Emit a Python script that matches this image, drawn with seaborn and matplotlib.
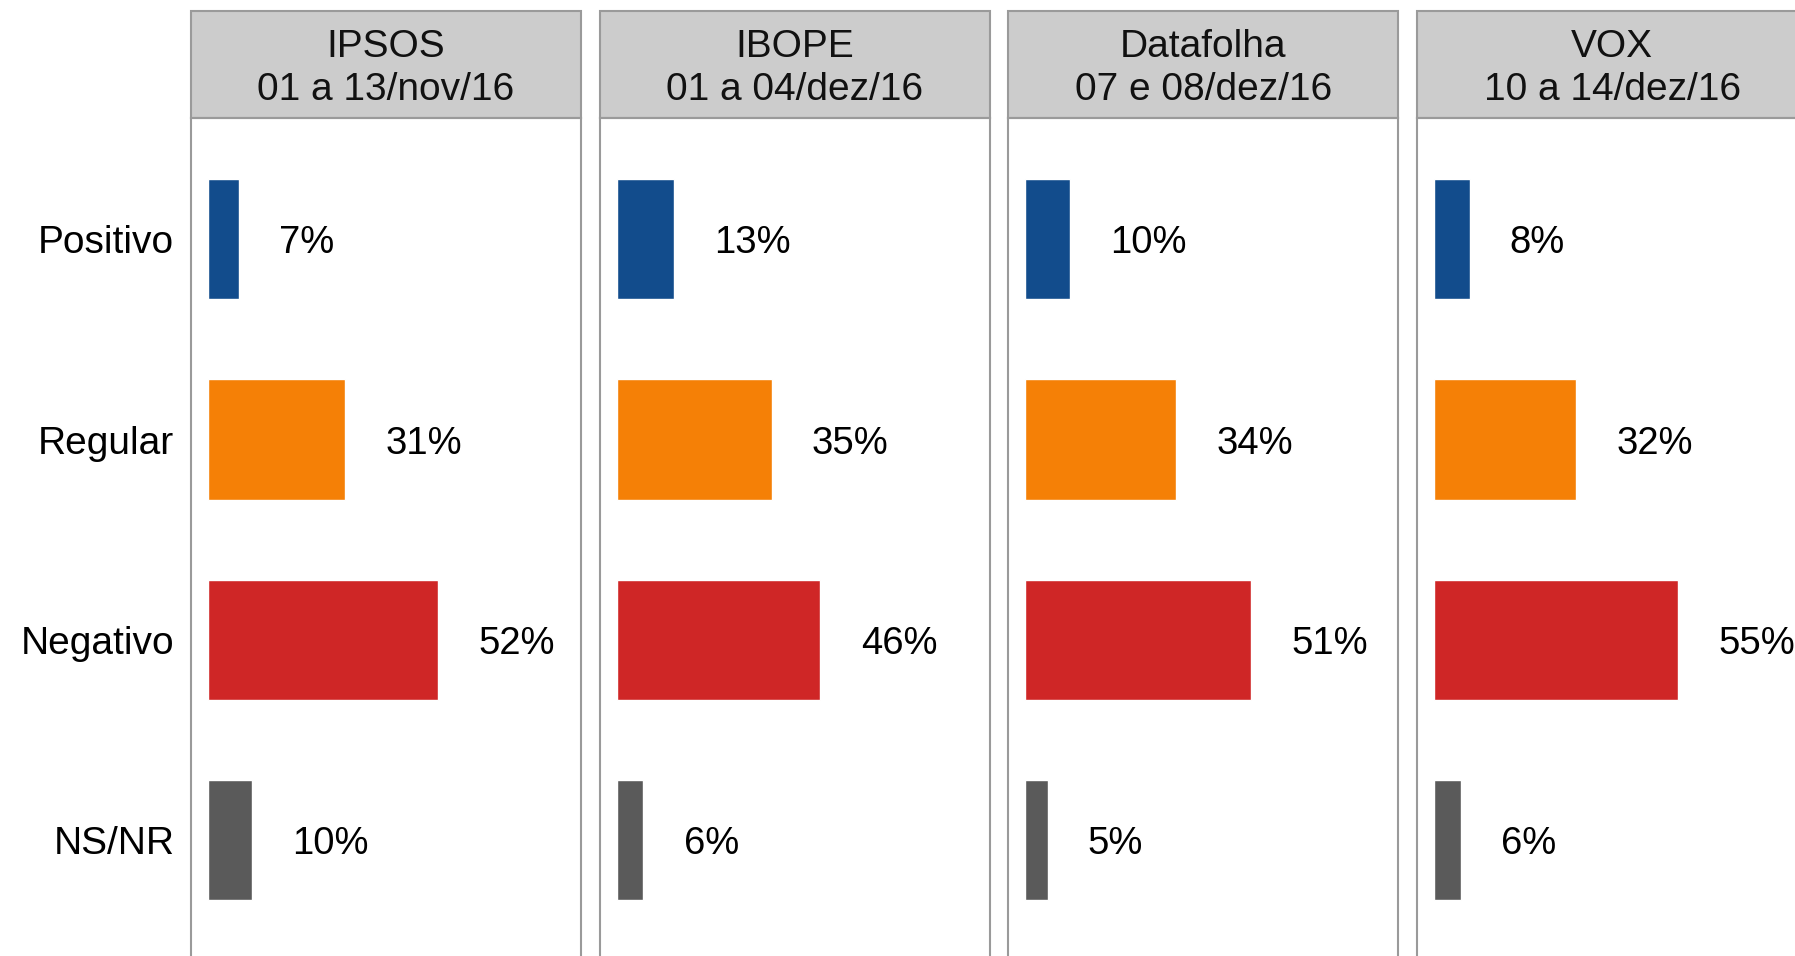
import pandas as pd
import matplotlib.pyplot as plt
import seaborn as sns
from matplotlib.patches import Rectangle

# Dados das pesquisas
categorias = ['Positivo', 'Regular', 'Negativo', 'NS/NR']
institutos = ['IPSOS', 'IBOPE', 'Datafolha', 'VOX']
periodos = ['01 a 13/nov/16', '01 a 04/dez/16', '07 e 08/dez/16', '10 a 14/dez/16']
ipsos = [7, 31, 52, 10]
ibope = [13, 35, 46, 6]
datafolha = [10, 34, 51, 5]
vox = [8, 32, 55, 6]
cores = ['#124c8c', '#f58006', '#cf2626', '#5a5a5a']

valores = [ipsos, ibope, datafolha, vox]

sns.set_style('white')
plt.rcParams['font.family'] = ['Liberation Sans', 'DejaVu Sans']

W, H = 1795, 956
fig = plt.figure(figsize=(W / 100, H / 100), dpi=100)

# Layout em pixels
painel_x0 = 191
painel_passo = 408.7
painel_w = 390
topo = 118       # fim do cabeçalho
cab_topo = 11.5  # topo do cabeçalho
borda = '#9a9a9a'

for i, (inst, per, vals) in enumerate(zip(institutos, periodos, valores)):
    left = (painel_x0 + i * painel_passo) / W
    ax = fig.add_axes([left, 0, painel_w / W, (H - topo) / H])

    df = pd.DataFrame({'categoria': categorias, 'valor': vals})
    sns.barplot(data=df, x='valor', y='categoria', hue='categoria',
                palette=cores, orient='h', width=0.6, legend=False,
                saturation=1, ax=ax)

    for cont in ax.containers:
        rotulos = ax.bar_label(cont, fmt='%d%%', padding=29, fontsize=27.5,
                               color='black')
        for r in rotulos:
            r.set_verticalalignment('center_baseline')

    ax.set_xlim(-3.84, 84.2)
    ax.set_ylim(3.578, -0.605)
    ax.set_xlabel('')
    ax.set_ylabel('')
    ax.set_xticks([])
    ax.tick_params(axis='y', length=0, pad=12, labelsize=28,
                   labelcolor='black')
    if i > 0:
        ax.set_yticklabels([])

    for lado in ['left', 'right', 'top']:
        ax.spines[lado].set_visible(True)
        ax.spines[lado].set_color(borda)
        ax.spines[lado].set_linewidth(1.5)
    ax.spines['bottom'].set_visible(False)

    # Cabeçalho cinza com o nome do instituto e o período
    h_frac = (topo - cab_topo) / (H - topo)
    cab = Rectangle((0, 1), 1, h_frac, transform=ax.transAxes,
                    facecolor='#cccccc', edgecolor=borda, linewidth=1.5,
                    clip_on=False)
    ax.add_patch(cab)
    ax.text(0.5, 1 + h_frac / 2 - 4 / (H - topo), f'{inst}\n{per}',
            transform=ax.transAxes, ha='center', va='center', fontsize=28,
            linespacing=1.25, color='#111111')

plt.savefig('out.png', dpi=100)
